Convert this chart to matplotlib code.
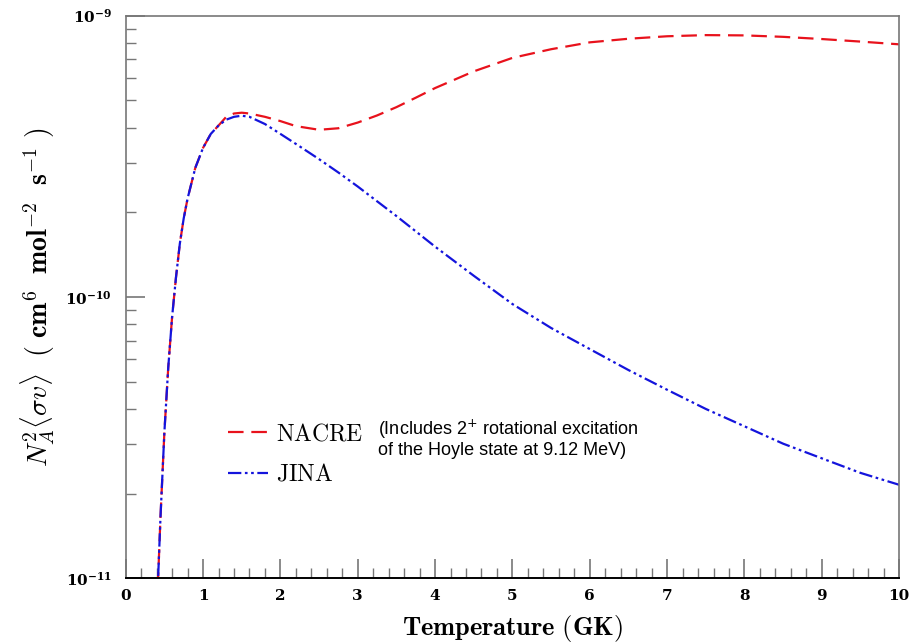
import numpy as np
import matplotlib
matplotlib.use('Agg')
import matplotlib.pyplot as plt
from matplotlib.ticker import FixedLocator, FuncFormatter, NullFormatter

plt.rcParams['mathtext.fontset'] = 'dejavuserif'
plt.rcParams['font.family'] = ['DejaVu Serif']

# reaction rate vs temperature
temp_rise = [0.40, 0.42, 0.45, 0.50, 0.55, 0.60, 0.65, 0.70, 0.75, 0.80, 0.90, 1.00, 1.10, 1.20]
rate_rise = [6.31e-12, 1.02e-11, 1.66e-11, 3.31e-11, 5.62e-11, 8.51e-11, 1.175e-10, 1.55e-10,
             1.905e-10, 2.24e-10, 2.88e-10, 3.39e-10, 3.80e-10, 4.07e-10]

nacre_temp = [1.3, 1.4, 1.5, 1.6, 1.8, 2.0, 2.2, 2.5, 2.75, 3.0, 3.25, 3.5, 3.75, 4.0, 4.5,
              5.0, 5.5, 6.0, 6.5, 7.0, 7.5, 8.0, 8.5, 9.0, 9.5, 10.0]
nacre_rate = [4.37e-10, 4.49e-10, 4.52e-10, 4.49e-10, 4.37e-10, 4.22e-10, 4.05e-10, 3.93e-10,
              3.98e-10, 4.17e-10, 4.42e-10, 4.73e-10, 5.11e-10, 5.53e-10, 6.34e-10, 7.08e-10,
              7.60e-10, 8.04e-10, 8.28e-10, 8.45e-10, 8.53e-10, 8.51e-10, 8.41e-10, 8.26e-10,
              8.09e-10, 7.91e-10]

jina_temp = [1.3, 1.4, 1.5, 1.6, 1.8, 2.0, 2.25, 2.5, 2.75, 3.0, 3.5, 4.0, 4.5, 5.0, 5.5,
             6.0, 6.5, 7.0, 7.5, 8.0, 8.5, 9.0, 9.5, 10.0]
jina_rate = [4.27e-10, 4.37e-10, 4.41e-10, 4.37e-10, 4.12e-10, 3.80e-10, 3.43e-10, 3.09e-10,
             2.77e-10, 2.47e-10, 1.94e-10, 1.51e-10, 1.19e-10, 9.44e-11, 7.76e-11, 6.53e-11,
             5.50e-11, 4.68e-11, 4.00e-11, 3.47e-11, 3.01e-11, 2.67e-11, 2.37e-11, 2.15e-11]

x_major = list(range(0, 11))
y_major = [1e-11, 1e-10, 1e-9]

fig = plt.figure(figsize=(9.11, 6.43), dpi=100)
ax = fig.add_axes([0.138, 0.1006, 0.849, 0.875])

red = '#e8121c'
blue = '#1414dc'

ax.plot(temp_rise + nacre_temp, rate_rise + nacre_rate, color=red, lw=1.6,
        dashes=(7, 3.5), label=r'$\mathrm{NACRE}$')
ax.plot(temp_rise + jina_temp, rate_rise + jina_rate, color=blue, lw=1.6,
        dashes=(6, 1.6, 1.2, 1.6, 1.2, 1.6), label=r'$\mathrm{JINA}$')

ax.set_yscale('log')
ax.set_xlim(0, 10)
ax.set_ylim(1e-11, 1e-9)

# ticks
ax.xaxis.set_major_locator(FixedLocator(x_major))
ax.xaxis.set_minor_locator(FixedLocator(np.arange(0, 10.01, 0.2)))
ax.xaxis.set_major_formatter(FuncFormatter(lambda v, p: '%d' % round(v)))
y_minor = [m * d for d in y_major[:-1] for m in range(2, 10)]
ax.yaxis.set_major_locator(FixedLocator(y_major))
ax.yaxis.set_minor_locator(FixedLocator(y_minor))
ax.yaxis.set_minor_formatter(NullFormatter())
ax.yaxis.set_major_formatter(FuncFormatter(
    lambda v, p: r'$\mathbf{10^{%d}}$' % round(np.log10(v))))

ax.tick_params(which='both', direction='in', top=False, right=False, color='#777777',
               labelsize=11)
ax.tick_params(which='major', length=14, width=1.2)
ax.tick_params(which='minor', length=7, width=1.0)
ax.tick_params(axis='x', pad=8)
ax.tick_params(axis='y', pad=10)
for lab in ax.get_xticklabels():
    lab.set_fontweight('bold')

for side in ['left', 'top', 'right']:
    ax.spines[side].set_color('#777777')
    ax.spines[side].set_linewidth(1.2)
ax.spines['bottom'].set_color('black')
ax.spines['bottom'].set_linewidth(1.4)

ax.set_xlabel(r'$\mathbf{Temperature\ (GK)}$', fontsize=19, labelpad=7,
              math_fontfamily='cm')
ax.set_ylabel(r'$N_A^2\langle\sigma v\rangle\ \ (\ \mathbf{cm}^6\ \ \mathbf{mol}^{-2}\ \ \mathbf{s}^{-1}\ )$',
              fontsize=20, labelpad=6, math_fontfamily='cm')

leg = ax.legend(loc='center left', bbox_to_anchor=(0.132, 0.221), frameon=False,
                fontsize=17, handlelength=1.7, handletextpad=0.35, labelspacing=0.75,
                borderpad=0, borderaxespad=0)
for txt in leg.get_texts():
    txt.set_math_fontfamily('cm')

ax.text(0.326, 0.249, '(Includes 2$^{+}$ rotational excitation\nof the Hoyle state at 9.12 MeV)',
        transform=ax.transAxes, fontsize=13, family='Liberation Sans',
        va='center', ha='left', linespacing=1.1, math_fontfamily='dejavusans')

fig.savefig('out.png', dpi=100)
